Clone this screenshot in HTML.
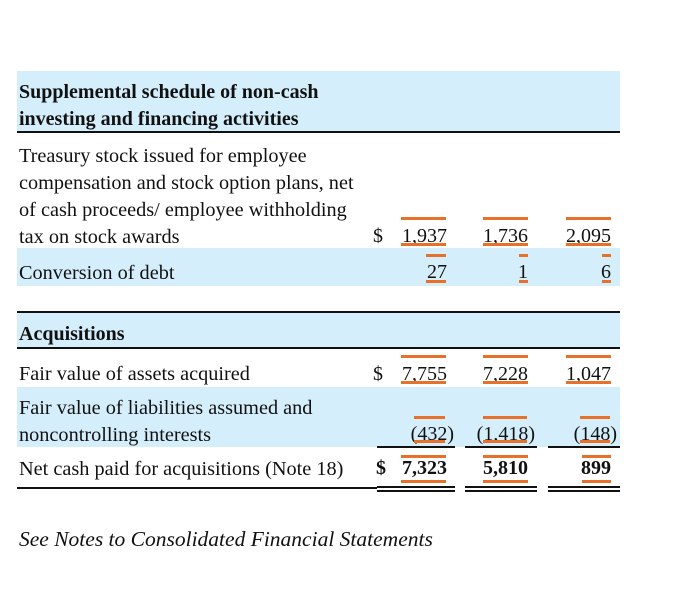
<!DOCTYPE html>
<html><head><style>
body{margin:0;width:700px;height:608px;background:#fff;position:relative;font-family:"Liberation Serif",serif;color:#111;overflow:hidden}
div{position:absolute}
.band{background:#d5eefb;left:17px;width:603px}
.ln{background:#111;height:2px}
.t{left:19px;font-size:20.3px;white-space:nowrap;line-height:18px}
.b{font-weight:bold;font-size:20px}
.n{font-size:20px;line-height:18px;text-align:right;white-space:nowrap}
.o{background:#e8712a;height:3px}
</style></head><body>
<div class="band" style="top:71px;height:61px"></div>
<div class="ln" style="left:17px;width:603px;top:131px"></div>
<div class="t b" style="top:83px">Supplemental schedule of non-cash</div>
<div class="t b" style="top:110px">investing and financing activities</div>
<div class="t" style="top:147px">Treasury stock issued for employee</div>
<div class="t" style="top:174px">compensation and stock option plans, net</div>
<div class="t" style="top:201px">of cash proceeds/ employee withholding</div>
<div class="t" style="top:228px">tax on stock awards</div>
<div class="band" style="top:248px;height:38px"></div>
<div class="t" style="top:264px">Conversion of debt</div>
<div class="ln" style="left:17px;width:603px;top:311px"></div>
<div class="band" style="top:313px;height:35px"></div>
<div class="ln" style="left:17px;width:603px;top:347px"></div>
<div class="t b" style="top:325px">Acquisitions</div>
<div class="t" style="top:365px">Fair value of assets acquired</div>
<div class="band" style="top:387px;height:60px"></div>
<div class="t" style="top:399px">Fair value of liabilities assumed and</div>
<div class="t" style="top:426px">noncontrolling interests</div>
<div class="t" style="top:460px">Net cash paid for acquisitions (Note 18)</div>
<div class="ln" style="left:17px;width:360px;top:487px"></div>
<div class="t" style="top:530px;font-style:italic;font-size:21.5px">See Notes to Consolidated Financial Statements</div>

<div class="n" style="left:373px;top:227px">$</div>
<div class="n" style="right:253px;top:227px">1,937</div>
<div class="n" style="right:172px;top:227px">1,736</div>
<div class="n" style="right:89px;top:227px">2,095</div>
<div class="o" style="left:401px;width:45px;top:217px"></div><div class="o" style="left:401px;width:45px;top:243px"></div>
<div class="o" style="left:483px;width:45px;top:217px"></div><div class="o" style="left:483px;width:45px;top:243px"></div>
<div class="o" style="left:566px;width:45px;top:217px"></div><div class="o" style="left:566px;width:45px;top:243px"></div>

<div class="n" style="right:253px;top:263px">27</div>
<div class="n" style="right:172px;top:263px">1</div>
<div class="n" style="right:89px;top:263px">6</div>
<div class="o" style="left:426px;width:20px;top:254px"></div><div class="o" style="left:426px;width:20px;top:280px"></div>
<div class="o" style="left:519px;width:9px;top:254px"></div><div class="o" style="left:519px;width:9px;top:280px"></div>
<div class="o" style="left:602px;width:9px;top:254px"></div><div class="o" style="left:602px;width:9px;top:280px"></div>

<div class="n" style="left:373px;top:365px">$</div>
<div class="n" style="right:253px;top:365px">7,755</div>
<div class="n" style="right:172px;top:365px">7,228</div>
<div class="n" style="right:89px;top:365px">1,047</div>
<div class="o" style="left:401px;width:45px;top:355px"></div><div class="o" style="left:401px;width:45px;top:381px"></div>
<div class="o" style="left:483px;width:45px;top:355px"></div><div class="o" style="left:483px;width:45px;top:381px"></div>
<div class="o" style="left:566px;width:45px;top:355px"></div><div class="o" style="left:566px;width:45px;top:381px"></div>

<div class="n" style="right:246px;top:425px">(432)</div>
<div class="n" style="right:165px;top:425px">(1,418)</div>
<div class="n" style="right:83px;top:425px">(148)</div>
<div class="o" style="left:414px;width:31px;top:416px"></div><div class="o" style="left:414px;width:31px;top:440px"></div>
<div class="o" style="left:483px;width:44px;top:416px"></div><div class="o" style="left:483px;width:44px;top:440px"></div>
<div class="o" style="left:580px;width:30px;top:416px"></div><div class="o" style="left:580px;width:30px;top:440px"></div>
<div class="ln" style="left:377px;width:78px;top:446px"></div>
<div class="ln" style="left:465px;width:72px;top:446px"></div>
<div class="ln" style="left:548px;width:72px;top:446px"></div>

<div class="n b" style="left:376px;top:459px">$</div>
<div class="n b" style="right:253px;top:459px">7,323</div>
<div class="n b" style="right:172px;top:459px">5,810</div>
<div class="n b" style="right:89px;top:459px">899</div>
<div class="o" style="left:401px;width:45px;top:455px"></div><div class="o" style="left:401px;width:45px;top:480px"></div>
<div class="o" style="left:483px;width:45px;top:455px"></div><div class="o" style="left:483px;width:45px;top:480px"></div>
<div class="o" style="left:582px;width:29px;top:455px"></div><div class="o" style="left:582px;width:29px;top:480px"></div>
<div class="ln" style="left:377px;width:78px;top:486px"></div><div class="ln" style="left:377px;width:78px;top:490px"></div>
<div class="ln" style="left:465px;width:72px;top:486px"></div><div class="ln" style="left:465px;width:72px;top:490px"></div>
<div class="ln" style="left:548px;width:72px;top:486px"></div><div class="ln" style="left:548px;width:72px;top:490px"></div>
</body></html>
